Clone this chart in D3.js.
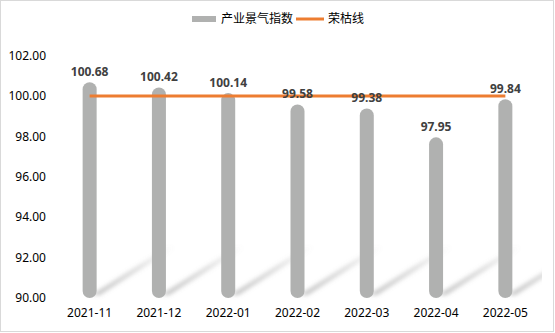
<!DOCTYPE html>
<html><head><meta charset="utf-8">
<script src="https://cdn.jsdelivr.net/npm/d3@7"></script>
<style>body{margin:0;background:#fff}svg{display:block}</style>
</head><body>
<script>
const categories = ["2021-11","2021-12","2022-01","2022-02","2022-03","2022-04","2022-05"];
const indexValues = [100.68,100.42,100.14,99.58,99.38,97.95,99.84];
const boomLine = [100,100,100,100,100,100,100];
const yTicks = [90,92,94,96,98,100,102];
const seriesNames = ["产业景气指数","荣枯线"];

const W=555,H=333;
const font = "'Noto Sans','Noto Sans CJK SC',sans-serif";
const svg = d3.select("body").append("svg").attr("width",W).attr("height",H);
svg.append("rect").attr("x",0.5).attr("y",0.5).attr("width",553).attr("height",331)
  .attr("fill","#fff").attr("stroke","#D9D9D9");

const x = d3.scaleBand().domain(categories).range([55,540]);
const y = d3.scaleLinear().domain([90,102]).range([298,55.5]);

const defs = svg.append("defs");
defs.append("filter").attr("id","blur").attr("x","-50%").attr("y","-50%").attr("width","200%").attr("height","200%")
  .append("feGaussianBlur").attr("stdDeviation",2.2);
const grad = defs.append("linearGradient").attr("id","sg").attr("gradientUnits","objectBoundingBox")
  .attr("x1",0).attr("y1",1).attr("x2",1).attr("y2",0);
grad.append("stop").attr("offset",0).attr("stop-color","#8a8a8a").attr("stop-opacity",0.55);
grad.append("stop").attr("offset",0.55).attr("stop-color","#8a8a8a").attr("stop-opacity",0.3);
grad.append("stop").attr("offset",1).attr("stop-color","#8a8a8a").attr("stop-opacity",0);
defs.append("clipPath").attr("id","pc").append("rect").attr("x",50).attr("y",40).attr("width",492).attr("height",262);

// shadows
svg.append("g").attr("clip-path","url(#pc)").selectAll("path").data(categories).join("path")
  .attr("d",d=>{const cx=x(d)+x.bandwidth()/2;return `M${cx+2},${y(90)-3} L${cx+10},${y(90)-3} L${cx+86},${y(90)-51} L${cx+78},${y(90)-51} Z`;})
  .attr("fill","url(#sg)").attr("filter","url(#blur)");

// y axis labels
svg.append("g").selectAll("text").data(yTicks).join("text")
  .attr("x",46).attr("y",d=>y(d)).attr("dy","0.35em").attr("text-anchor","end")
  .attr("font-family",font).attr("font-size",12).attr("fill","#000").text(d=>d.toFixed(2));

// bars
const bw=14;
svg.append("g").selectAll("rect").data(indexValues).join("rect")
  .attr("x",(d,i)=>x(categories[i])+x.bandwidth()/2-bw/2).attr("width",bw)
  .attr("y",d=>y(d)).attr("height",d=>y(90)-y(d)).attr("rx",7).attr("ry",7)
  .attr("fill","#B0B1B0");

// line
const line = d3.line().x((d,i)=>x(categories[i])+x.bandwidth()/2).y(d=>y(d));
svg.append("path").datum(boomLine).attr("d",line).attr("fill","none")
  .attr("stroke","#ED7D31").attr("stroke-width",3);

// value labels
svg.append("g").selectAll("text").data(indexValues).join("text")
  .attr("x",(d,i)=>x(categories[i])+x.bandwidth()/2).attr("y",d=>y(d)-6)
  .attr("text-anchor","middle").attr("font-family",font).attr("font-size",12).attr("font-weight","bold")
  .attr("fill","#404040").text(d=>d.toFixed(2));

// x labels
svg.append("g").selectAll("text").data(categories).join("text")
  .attr("x",d=>x(d)+x.bandwidth()/2).attr("y",313).attr("dy","0.35em").attr("text-anchor","middle")
  .attr("font-family",font).attr("font-size",12).attr("fill","#000").text(d=>d);

// legend
const lg = svg.append("g");
lg.append("rect").attr("x",192).attr("y",16).attr("width",24).attr("height",6).attr("fill","#B0B1B0");
lg.append("text").attr("x",221).attr("y",19).attr("dy","0.35em").attr("font-family",font).attr("font-size",12).attr("fill","#000").text(seriesNames[0]);
lg.append("line").attr("x1",296).attr("x2",324).attr("y1",19).attr("y2",19).attr("stroke","#ED7D31").attr("stroke-width",3);
lg.append("text").attr("x",328).attr("y",19).attr("dy","0.35em").attr("font-family",font).attr("font-size",12).attr("fill","#000").text(seriesNames[1]);
</script>
</body></html>
